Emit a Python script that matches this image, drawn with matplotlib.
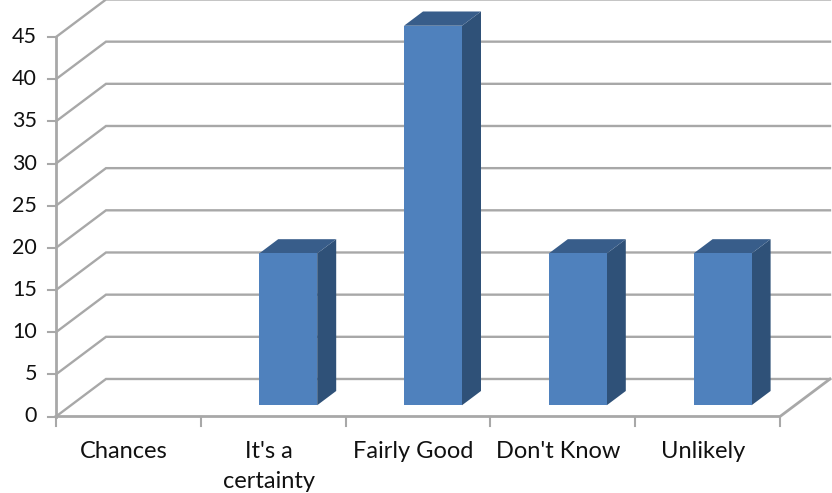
import matplotlib
matplotlib.use("Agg")
import matplotlib.pyplot as plt
from matplotlib.patches import Polygon

categories = ["Chances", "It's a\ncertainty", "Fairly Good", "Don't Know", "Unlikely"]
values = [0, 18, 45, 18, 18]
y_ticks = [0, 5, 10, 15, 20, 25, 30, 35, 40, 45]

plt.rcParams['font.family'] = ['Lato', 'DejaVu Sans']

GRID = '#a8a8a8'
FRONT = '#4f81bd'
TOP = '#385d8a'
SIDE = '#2f5178'

W, H = 832, 493
fig = plt.figure(figsize=(W / 100, H / 100), dpi=100)
ax = fig.add_axes([56 / W, 1 - 416.5 / H, 724 / W, 379.5 / H])
ax.set_xlim(0, 5)
ax.set_ylim(0, 45)
ax.axis('off')

# depth of the floor in data units
DX = 50 / 144.8
DY = 37.5 / 8.43
BAR_W = 58 / 144.8


def depth(x, y, d):
    return x + DX * d, y + DY * d


# gridlines run along the side wall and then across the back wall
for t in y_ticks:
    x0, y0 = depth(0, t, 1)
    x1, y1 = depth(5, t, 1)
    ax.plot([0, x0, x1], [t, y0, y1], color=GRID, lw=1.7, clip_on=False,
            solid_joinstyle='miter', zorder=1)
    ax.plot([-8 / 144.8, 0], [t, t], color=GRID, lw=1.5, clip_on=False, zorder=1)
    ax.text(-19 / 144.8, t, str(t), ha='right', va='center', fontsize=15.5, color='#111111')

# floor edge and axes
ax.plot([0, 0], [0, 45], color=GRID, lw=2, clip_on=False, zorder=2)
ax.plot([0, 5, depth(5, 0, 1)[0]], [0, 0, DY], color=GRID, lw=2, clip_on=False, zorder=2)
for i in range(6):
    ax.plot([i, i], [0, -9 / 8.43], color=GRID, lw=1.5, clip_on=False, zorder=2)

# 3D column: front, side and top faces
for i, v in enumerate(values):
    if v == 0:
        continue
    left = i + 0.5 - BAR_W / 2
    right = left + BAR_W
    fx0, fy0 = depth(left, 0, 0.3)
    fx1, fy1 = depth(right, v, 0.3)
    bx1, by0 = depth(right, 0, 0.68)
    bx0, by1 = depth(left, v, 0.68)
    bx2, by2 = depth(right, v, 0.68)
    ax.add_patch(Polygon([(fx1, fy0), (bx1, by0), (bx2, by2), (fx1, fy1)],
                         fc=SIDE, ec='none', clip_on=False, zorder=3))
    ax.add_patch(Polygon([(fx0, fy1), (fx1, fy1), (bx2, by2), (bx0, by1)],
                         fc=TOP, ec='none', clip_on=False, zorder=3))
    ax.add_patch(Polygon([(fx0, fy0), (fx1, fy0), (fx1, fy1), (fx0, fy1)],
                         fc=FRONT, ec='none', clip_on=False, zorder=4))

# category labels
for i, c in enumerate(categories):
    ax.text(i + 0.47, -24 / 8.43, c, ha='center', va='top', fontsize=17,
            color='#111111', linespacing=1.55, clip_on=False)

fig.savefig("out.png", dpi=100)
